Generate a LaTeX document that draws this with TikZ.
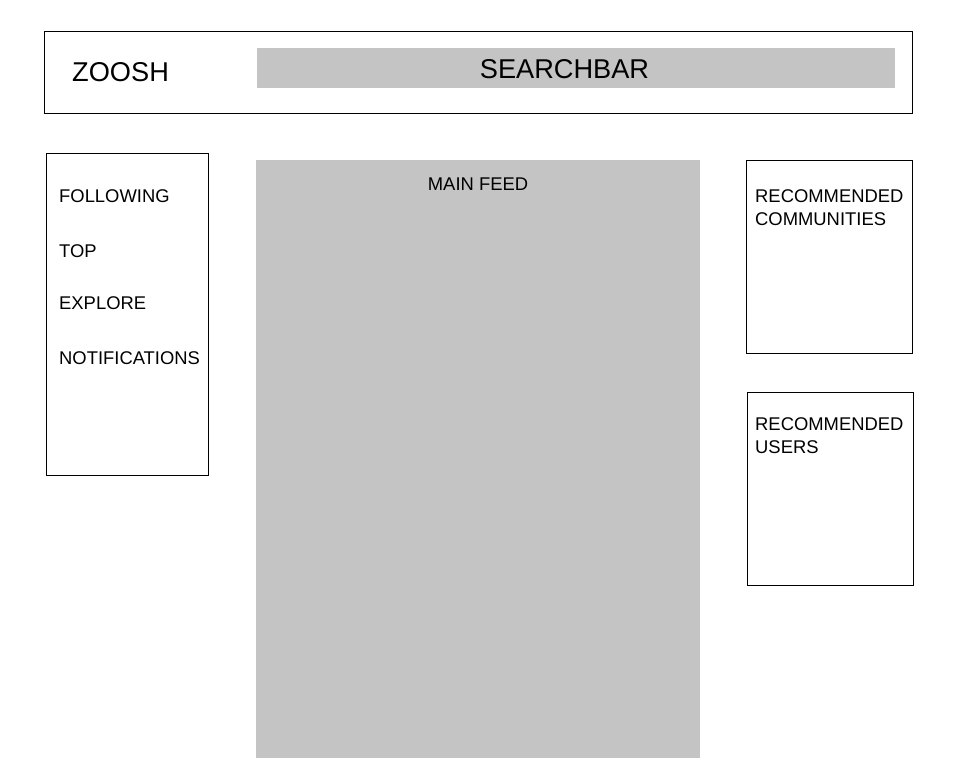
\documentclass[tikz,border=0pt]{standalone}
\usepackage{fontspec}
\setmainfont{Liberation Sans}
\definecolor{wfgray}{HTML}{C4C4C4}
\tikzset{
  frame/.style={draw=black, line width=1pt, fill=white},
  grayblock/.style={fill=wfgray, draw=none},
  lbl/.style={anchor=base west, inner sep=0pt, font=\fontsize{18.4}{22}\selectfont},
  bigl/.style={inner sep=0pt, font=\fontsize{27.2}{32}\selectfont},
}
\begin{document}
\begin{tikzpicture}[x=1pt,y=-1pt]
\useasboundingbox[fill=white] (0,0) rectangle (966,766);
% header
\draw[frame] (44.5,31.5) rectangle (912.5,113);
\fill[grayblock] (257,48) rectangle (895,88);
\node[bigl, anchor=base west] (logo) at (72,81.5) {ZOOSH};
\node[bigl, anchor=base] (search) at (564.5,78) {SEARCHBAR};
% left nav
\draw[frame] (46.5,153.5) rectangle (208.5,475.5);
\node[lbl] (following) at (59,202) {FOLLOWING};
\node[lbl] (top) at (59,257) {TOP};
\node[lbl] (explore) at (59,309) {EXPLORE};
\node[lbl] (notif) at (59,364) {NOTIFICATIONS};
% main feed
\fill[grayblock] (256,160) rectangle (700,758);
\node[lbl, anchor=base] (feed) at (478,190) {MAIN FEED};
% right panels
\draw[frame] (746.5,160.5) rectangle (912.5,353.5);
\node[lbl] (rc1) at (755,202) {RECOMMENDED};
\node[lbl] (rc2) at (755,225) {COMMUNITIES};
\draw[frame] (747.5,392.5) rectangle (913.5,585.5);
\node[lbl] (ru1) at (755,430) {RECOMMENDED};
\node[lbl] (ru2) at (755,453) {USERS};
\end{tikzpicture}
\end{document}
